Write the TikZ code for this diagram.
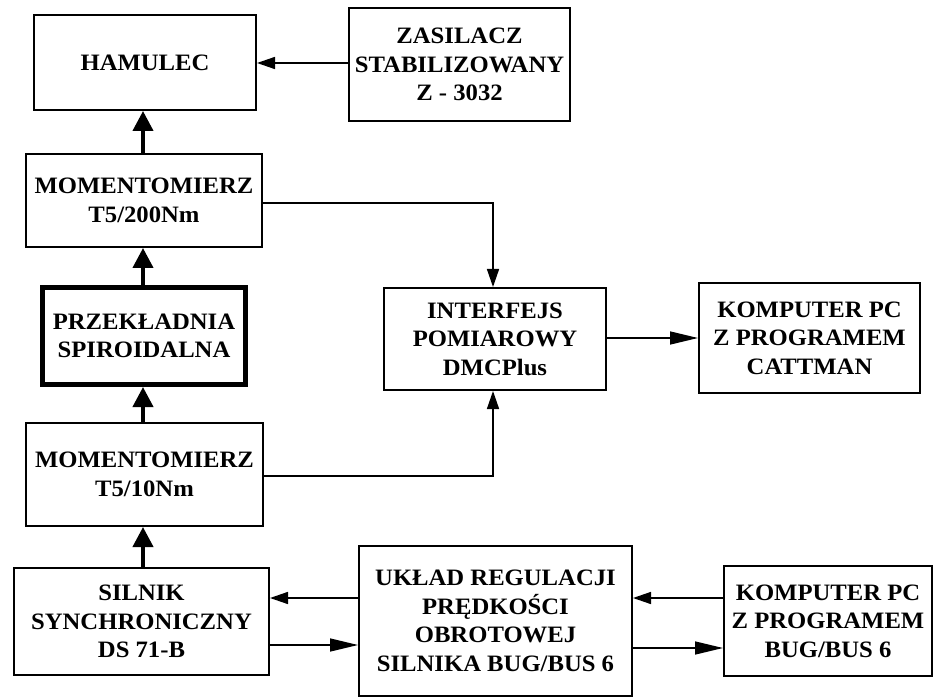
\documentclass[tikz,border=0pt]{standalone}
\usepackage{fontspec}
\setmainfont{Liberation Serif}[FakeStretch=1.05]
\usetikzlibrary{arrows.meta}
\begin{document}
\begin{tikzpicture}[x=1pt,y=-1pt,
  box/.style={draw, line width=2pt, inner sep=0pt, align=center,
    font=\fontsize{23.5}{28.5}\selectfont\bfseries},
  heavybox/.style={box, line width=5pt},
  wire/.style={line width=1.5pt},
  sarr/.style={wire, -{Triangle[length=18pt,width=12pt]}},
  larr/.style={wire, -{Triangle[length=28pt,width=13pt]}},
  thk/.style={line width=4pt, -{Triangle[length=20pt,width=20pt]}}]
\useasboundingbox[fill=white] (0,0) rectangle (936,700);

\node[box, minimum width=222pt, minimum height=95pt] (ham) at (145,62.5) {HAMULEC};
\node[box, minimum width=221pt, minimum height=113pt] (zas) at (459.5,64.5) {ZASILACZ\\STABILIZOWANY\\Z - 3032};
\node[box, minimum width=236pt, minimum height=93pt] (m200) at (144,200.5) {MOMENTOMIERZ\\T5/200Nm};
\node[heavybox, minimum width=203pt, minimum height=97pt] (prz) at (144,336) {PRZEKŁADNIA\\SPIROIDALNA};
\node[box, minimum width=237pt, minimum height=103pt] (m10) at (144.5,474.5) {MOMENTOMIERZ\\T5/10Nm};
\node[box, minimum width=255pt, minimum height=107pt] (sil) at (141.5,621.5) {SILNIK\\SYNCHRONICZNY\\DS 71-B};
\node[box, minimum width=222pt, minimum height=102pt] (int) at (495,339) {INTERFEJS\\POMIAROWY\\DMCPlus};
\node[box, minimum width=221pt, minimum height=110pt] (cat) at (809.5,338) {KOMPUTER PC\\Z PROGRAMEM\\CATTMAN};
\node[box, minimum width=273pt, minimum height=150pt] (ukl) at (495.5,621) {UKŁAD REGULACJI\\PRĘDKOŚCI\\OBROTOWEJ\\SILNIKA BUG/BUS 6};
\node[box, minimum width=208pt, minimum height=110pt] (bug) at (828,621) {KOMPUTER PC\\Z PROGRAMEM\\BUG/BUS 6};

% thick mechanical arrows
\draw[thk] (m200.north -| 143,0) -- (ham.south -| 143,0);
\draw[thk] (prz.north -| 143,0) -- (m200.south -| 143,0);
\draw[thk] (m10.north -| 143,0) -- (prz.south -| 143,0);
\draw[thk] (sil.north -| 143,0) -- (m10.south -| 143,0);

% signal arrows
\draw[sarr] (zas.west |- 0,63) -- (ham.east |- 0,63);
\draw[sarr] (m200.east |- 0,203) -| (int.north -| 493,0);
\draw[sarr] (m10.east |- 0,476) -| (int.south -| 493,0);
\draw[larr] (int.east |- 0,338) -- (cat.west |- 0,338);
\draw[sarr] (ukl.west |- 0,598) -- (sil.east |- 0,598);
\draw[larr] (sil.east |- 0,645) -- (ukl.west |- 0,645);
\draw[sarr] (bug.west |- 0,598) -- (ukl.east |- 0,598);
\draw[larr] (ukl.east |- 0,648) -- (bug.west |- 0,648);
\end{tikzpicture}
\end{document}
